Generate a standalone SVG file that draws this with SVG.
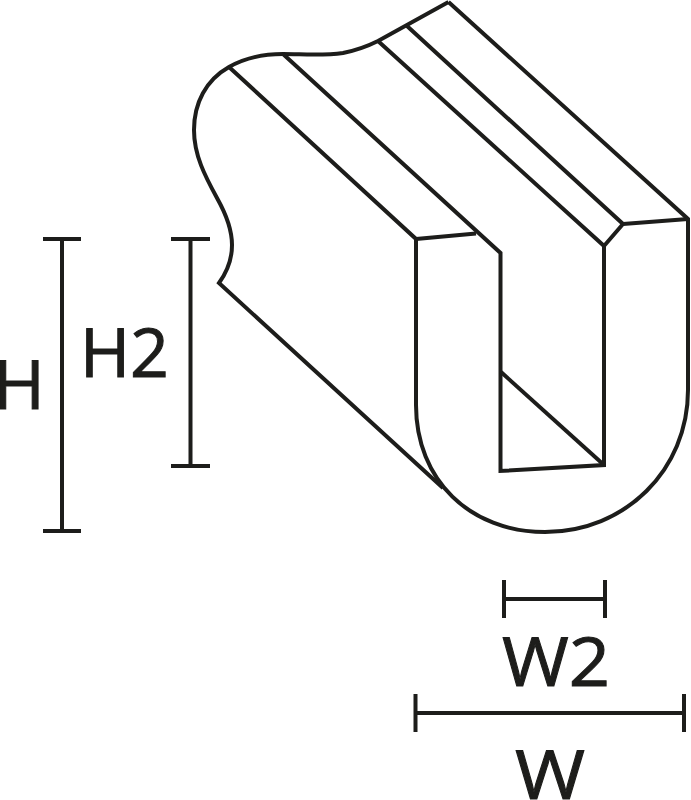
<svg xmlns="http://www.w3.org/2000/svg" width="691" height="800" viewBox="0 0 691 800">
<style>
.l{fill:none;stroke:#1d1d1b;stroke-width:4;stroke-linejoin:miter;stroke-linecap:butt}
.t{font-family:"Open Sans","Noto Sans",sans-serif;font-size:68px;fill:#1d1d1b;stroke:#1d1d1b;stroke-width:1}
</style>
<rect width="691" height="800" fill="#fff"/>
<g id="profile" class="l">
<path d="M448.500 2L378 41C366 47 358 50 343 53C322 56 302 54 283 54C262 54 243 59 229 67C206 80 194 103 194 130C194 155 205 176 217 198C226 214 232 229 232 245C232 260 227 272 219 283L443 488"/>
<path d="M448.500 2L688 219V390C688 470 625 532 545 532C470 532 416 480 416 405V239L229 67"/>
<path d="M283 54L500.500 253V471L604 465V246L378 41"/>
<path d="M407 26L623 224L604 246"/>
<path d="M623 224L688 219"/>
<path d="M416 239L476 233.500"/>
<path d="M501 372L604 465"/>
</g>
<g id="dim-h" class="l"><path d="M43 239H81M62 239V531M43 531H81"/></g>
<g id="dim-h2" class="l"><path d="M171 239H210M190.500 239V466M171 466H210"/></g>
<g id="dim-w2" class="l"><path d="M504 580V618M504 599H605M605 580V618"/></g>
<g id="dim-w" class="l"><path d="M415.500 694V732M415.500 713H684M684 694V732"/></g>
<text class="t" x="-7" y="409" textLength="52" lengthAdjust="spacingAndGlyphs">H</text>
<text class="t" x="80" y="377" textLength="89" lengthAdjust="spacingAndGlyphs">H2</text>
<text class="t" x="502" y="686" textLength="108" lengthAdjust="spacingAndGlyphs">W2</text>
<text class="t" x="515" y="799" textLength="70" lengthAdjust="spacingAndGlyphs">W</text>
</svg>
